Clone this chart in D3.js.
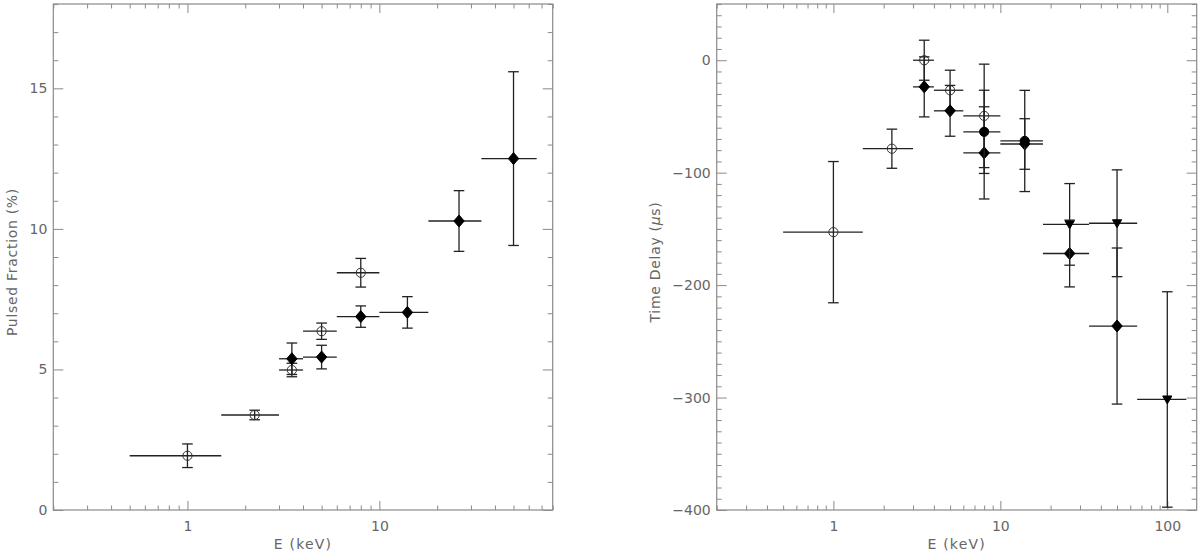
<!DOCTYPE html>
<html>
<head>
<meta charset="utf-8">
<script src="https://cdnjs.cloudflare.com/ajax/libs/d3/7.8.5/d3.min.js"></script>
<style>
body{margin:0;background:#fff}
svg text{font-family:"DejaVu Sans",sans-serif;fill:#666;font-size:14px}
</style>
</head>
<body>
<script>
// ---- left panel: pulsed fraction (%) vs energy
const binE   = [1, 2.24, 3.5, 5, 8]
const binLo  = [0.5, 1.5, 3, 4, 6]
const binHi  = [1.5, 3, 4, 6, 10]

const hiE    = [3.5, 5, 8, 14, 26, 50]
const hiLo   = [3, 4, 6, 10, 18, 34]
const hiHi   = [4, 6, 10, 18, 34, 66]

const pfCircVal = [1.93, 3.38, 4.98, 6.36, 8.44]
const pfCircErr = [0.42, 0.17, 0.24, 0.29, 0.51]
const pfDiaVal  = [5.38, 5.44, 6.88, 7.03, 10.28, 12.5]
const pfDiaErr  = [0.56, 0.42, 0.38, 0.56, 1.08, 3.09]

const pfXTicks = [1, 10]
const pfYTicks = [0, 5, 10, 15]

// ---- right panel: time delay (us) vs energy
const tdCircVal = [-152.9, -78.7, 0, -26.7, -49.5]
const tdCircErr = [62.8, 17.4, 17.8, 17.8, 46]
const tdDiaVal  = [-23.7, -45, -82.4, -74.5, -171.9, -236.4]
const tdDiaErr  = [26.7, 22.6, 41, 22.5, 29.7, 69.4]

const dotE   = [8, 14]
const dotLo  = [6, 10]
const dotHi  = [10, 18]
const tdDotVal = [-63.7, -71.8]
const tdDotErr = [37, 45]

const triE   = [26, 50, 100]
const triLo  = [18, 34, 66]
const triHi  = [34, 66, 130]
const tdTriVal = [-146, -145, -301.7]
const tdTriErr = [36.3, 47.5, 95.8]

const tdXTicks = [1, 10, 100]
const tdYTicks = [-400, -300, -200, -100, 0]

function series(E, lo, hi, val, err, sym) {
  return E.map(function(e, i) {
    return {E: e, lo: lo[i], hi: hi[i], v: val[i], err: err[i], sym: sym}
  })
}

const svg = d3.select("body").append("svg")
  .attr("width", 1200).attr("height", 556)

const frameCol = "#8a8a8a"
const dataCol = "#222"

function drawPanel(p) {
  const x = d3.scaleLog().domain(p.xDom).range([p.left, p.right])
  const y = d3.scaleLinear().domain(p.yDom).range([p.bottom, p.top])
  const g = svg.append("g")

  const xMinor = x.ticks().filter(function(t) { return p.xTicks.indexOf(t) < 0 })
  const yMinor = d3.range(p.yDom[0], p.yDom[1] + 1e-6, p.yStep)
    .filter(function(t) { return p.yTicks.indexOf(t) < 0 })

  // ticks, all four sides, pointing inward
  function ax(gen, pos, vals, size, labels, pad) {
    const a = g.append("g").attr("transform", pos)
      .call(gen(gen === d3.axisBottom || gen === d3.axisTop ? x : y)
        .tickValues(vals).tickSize(-size).tickSizeOuter(0).tickPadding(pad || 3)
        .tickFormat(labels ? d3.format("d") : ""))
    a.select(".domain").remove()
    a.selectAll("line").attr("stroke", frameCol)
    a.selectAll("text").attr("fill", "#666").style("font-size", "14px")
      .style("font-family", '"DejaVu Sans",sans-serif')
    return a
  }
  ax(d3.axisBottom, "translate(0," + p.bottom + ")", p.xTicks, 9, true, 11)
  ax(d3.axisBottom, "translate(0," + p.bottom + ")", xMinor, 4.5, false)
  ax(d3.axisTop, "translate(0," + p.top + ")", p.xTicks, 9, false)
  ax(d3.axisTop, "translate(0," + p.top + ")", xMinor, 4.5, false)
  ax(d3.axisLeft, "translate(" + p.left + ",0)", p.yTicks, 10, true, 6)
  ax(d3.axisLeft, "translate(" + p.left + ",0)", yMinor, 5, false)
  ax(d3.axisRight, "translate(" + p.right + ",0)", p.yTicks, 10, false)
  ax(d3.axisRight, "translate(" + p.right + ",0)", yMinor, 5, false)

  g.append("rect")
    .attr("x", p.left).attr("y", p.top)
    .attr("width", p.right - p.left).attr("height", p.bottom - p.top)
    .attr("fill", "none").attr("stroke", frameCol).attr("stroke-width", 1.2)

  // titles
  g.append("text")
    .attr("x", (p.left + p.right) / 2).attr("y", 549)
    .attr("text-anchor", "middle")
    .style("letter-spacing", "1.2px")
    .text("E (keV)")
  const yt = g.append("text")
    .attr("transform", "translate(" + p.titleX + ",262) rotate(-90)")
    .attr("text-anchor", "middle")
    .style("letter-spacing", "0.7px")
  p.yTitle.forEach(function(part) {
    yt.append("tspan").style("font-style", part[1] ? "italic" : "normal").text(part[0])
  })

  // error bars + markers
  p.data.forEach(function(s) {
    const pts = g.append("g")
    pts.selectAll(".xbar").data(s).enter().append("line")
      .attr("x1", function(d) { return x(d.lo) }).attr("x2", function(d) { return x(d.hi) })
      .attr("y1", function(d) { return y(d.v) }).attr("y2", function(d) { return y(d.v) })
      .attr("stroke", dataCol).attr("stroke-width", 1.3)
    pts.selectAll(".ybar").data(s).enter().append("line")
      .attr("x1", function(d) { return x(d.E) }).attr("x2", function(d) { return x(d.E) })
      .attr("y1", function(d) { return y(d.v - d.err) }).attr("y2", function(d) { return y(d.v + d.err) })
      .attr("stroke", dataCol).attr("stroke-width", 1.3)
    ;[-1, 1].forEach(function(sg) {
      pts.selectAll(".cap").data(s).enter().append("line")
        .attr("x1", function(d) { return x(d.E) - 5.3 }).attr("x2", function(d) { return x(d.E) + 5.3 })
        .attr("y1", function(d) { return y(d.v + sg * d.err) }).attr("y2", function(d) { return y(d.v + sg * d.err) })
        .attr("stroke", dataCol).attr("stroke-width", 1.3)
    })
    pts.selectAll(".mk").data(s).enter().append("path")
      .attr("transform", function(d) { return "translate(" + x(d.E) + "," + y(d.v) + ")" })
      .attr("d", function(d) {
        if (d.sym === "circle" || d.sym === "dot")
          return "M4.6,0A4.6,4.6 0 1,1 -4.6,0A4.6,4.6 0 1,1 4.6,0Z"
        if (d.sym === "diamond") return "M0,-6L5.2,0L0,6L-5.2,0Z"
        return "M-4.6,-3.5L4.6,-3.5L0,4.5Z"
      })
      .attr("fill", function(d) { return d.sym === "circle" ? "none" : "#000" })
      .attr("stroke", function(d) { return d.sym === "circle" ? "#333" : "#000" })
      .attr("stroke-width", 1)
  })
}

drawPanel({
  left: 53.3, right: 552.7, top: 4, bottom: 510,
  xDom: [0.2, 80], yDom: [0, 18], yStep: 1,
  xTicks: pfXTicks, yTicks: pfYTicks,
  titleX: 17, yTitle: [["Pulsed Fraction (%)", false]],
  data: [
    series(binE, binLo, binHi, pfCircVal, pfCircErr, "circle"),
    series(hiE, hiLo, hiHi, pfDiaVal, pfDiaErr, "diamond")
  ]
})

drawPanel({
  left: 716.7, right: 1196.7, top: 4, bottom: 510,
  xDom: [0.2, 150], yDom: [-400, 50], yStep: 10,
  xTicks: tdXTicks, yTicks: tdYTicks,
  titleX: 660, yTitle: [["Time Delay (", false], ["\u03bc", true], ["s)", false]],
  data: [
    series(binE, binLo, binHi, tdCircVal, tdCircErr, "circle"),
    series(hiE, hiLo, hiHi, tdDiaVal, tdDiaErr, "diamond"),
    series(dotE, dotLo, dotHi, tdDotVal, tdDotErr, "dot"),
    series(triE, triLo, triHi, tdTriVal, tdTriErr, "tri")
  ]
})
</script>
</body>
</html>
